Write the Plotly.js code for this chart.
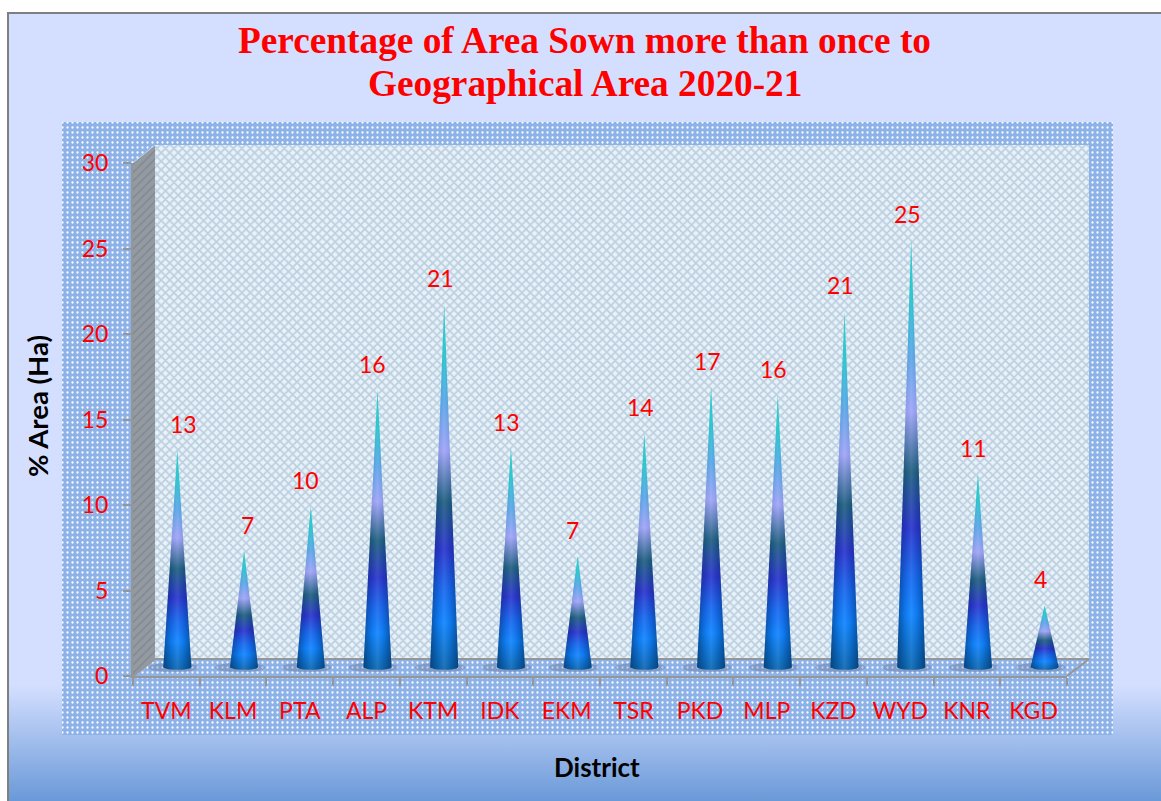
<!DOCTYPE html>
<html><head><meta charset="utf-8">
<script src="https://cdn.plot.ly/plotly-3.0.1.min.js"></script>
<style>html,body{margin:0;padding:0;background:#fff;overflow:hidden}#c{width:1161px;height:801px}</style>
</head><body><div id="c"></div>
<script>
const districts = ["TVM","KLM","PTA","ALP","KTM","IDK","EKM","TSR","PKD","MLP","KZD","WYD","KNR","KGD"];
const percentArea = [12.7,6.8,9.4,16.2,21.2,12.8,6.5,13.7,16.4,15.9,20.8,25,11.3,3.6];
const valueLabels = ["13","7","10","16","21","13","7","14","17","16","21","25","11","4"];
const labelNudgeX = [6,3,-5,-5,-4,-4,-5,-4,-4,-4,-4,-4,-4,-4];
const yTicks = [0,5,10,15,20,25,30];

const W=1161,H=801,red="#ff0000",gray="#969696",sans="Lato, 'Open Sans', sans-serif";
const coneStops=[[0,"#0d66ae"],[0.13,"#0f84ff"],[0.22,"#1768ee"],[0.33,"#2a35cc"],[0.46,"#1f5f80"],[0.6,"#a0a4f8"],[0.73,"#5aa6e8"],[0.87,"#1fc4cc"],[1,"#18c8c8"]];
const shadeStops=[[0,"rgba(0,30,70,0.5)"],[0.3,"rgba(0,30,70,0.08)"],[0.5,"rgba(255,255,255,0.08)"],[0.7,"rgba(0,30,70,0.08)"],[1,"rgba(0,30,70,0.5)"]];
const HALF=0.21,DROP=0.17;

function poly(xs,ys,extra,xa,ya){return Object.assign({x:xs,y:ys,xaxis:xa||"x",yaxis:ya||"y",type:"scatter",mode:"lines",fill:"toself",line:{width:0},hoverinfo:"skip",showlegend:false},extra);}
function seg(xs,ys,c,w){return {x:xs,y:ys,xaxis:"x",yaxis:"y",type:"scatter",mode:"lines",line:{color:c,width:w},hoverinfo:"skip",showlegend:false};}

const decor=[
 poly([8,1161,1161,8,8],[13,13,686,686,13],{fillcolor:"#d4dfff"}),
 poly([8,1161,1161,8,8],[685,685,801,801,685],{fillgradient:{type:"vertical",start:685,stop:801,colorscale:[[0,"#d4dfff"],[1,"#6a99d8"]]}}),
 seg([8,8],[801,13],"#7f7f7f",2),
 seg([7,1161],[13,13],"#7f7f7f",2),
 poly([62,1113,1113,62,62],[122,122,735,735,122],{fillcolor:"#8db2e8",fillpattern:{shape:".",size:5,solidity:0.16,fgcolor:"#ffffff",bgcolor:"#8db2e8",fillmode:"replace"}}),
 poly([155,1089,1089,155,155],[145,145,659,659,145],{fillcolor:"#e2eff8",fillpattern:{shape:"x",size:6,solidity:0.5,fgcolor:"#bccfe0",bgcolor:"#e8f2f9",fillmode:"replace"}}),
 poly([133,155,155,133,133],[163,145,659,676,163],{fillcolor:"#8e949c",fillpattern:{shape:"/",size:6,solidity:0.25,fgcolor:"#82888f",bgcolor:"#949aa2",fillmode:"replace"}}),
 seg([133,155,1089,1067],[676,659,659,676],gray,2),
 seg([133,155],[163,145],"#c4d6f0",1)
];

const coneShape=districts.map((_,i)=>{
  const v=percentArea[i],xs=[i-HALF,i,i+HALF],ys=[0,v,0];
  for(let k=1;k<12;k++){const t=Math.PI*k/12;xs.push(i+HALF*Math.cos(t));ys.push(-DROP*Math.sin(t));}
  xs.push(i-HALF);ys.push(0);
  return {xs,ys};
});
const shadows=coneShape.map((s,i)=>{
  const xs=[],ys=[];
  for(let k=0;k<=24;k++){const t=2*Math.PI*k/24;xs.push(i-0.06+0.38*Math.cos(t));ys.push(-0.03+0.28*Math.sin(t));}
  return poly(xs,ys,{fillcolor:"rgba(90,100,130,0.3)"},"x3","y3");
});
const cones=coneShape.flatMap((s,i)=>[
  poly(s.xs,s.ys,{name:districts[i],fillgradient:{type:"vertical",start:-DROP,stop:percentArea[i],colorscale:coneStops}},"x3","y3"),
  poly(s.xs,s.ys,{fillgradient:{type:"horizontal",start:i-HALF,stop:i+HALF,colorscale:shadeStops}},"x3","y3")
]);
const axisHolder={x:districts,y:percentArea,xaxis:"x2",yaxis:"y2",type:"scatter",mode:"markers",marker:{opacity:0,size:1},hoverinfo:"skip",showlegend:false};

const labelNotes=districts.map((d,i)=>({x:i,y:percentArea[i],xref:"x3",yref:"y3",text:valueLabels[i],showarrow:false,xshift:labelNudgeX[i],yshift:26,yanchor:"middle",font:{family:sans,size:23,color:red}}));

const hidden={visible:false,fixedrange:true};
const unitPx=513/30;
const layout={
 width:W,height:H,margin:{l:0,r:0,t:0,b:0},paper_bgcolor:"#ffffff",plot_bgcolor:"rgba(0,0,0,0)",showlegend:false,hovermode:false,
 title:{text:"Percentage of Area Sown more than once to",x:584.5/W,xanchor:"center",xref:"paper",y:1-27/H,yanchor:"top",yref:"paper",font:{family:"'Liberation Serif', serif",size:37.3,color:red,weight:700}},
 xaxis:Object.assign({domain:[0,1],range:[0,W]},hidden),
 yaxis:Object.assign({domain:[0,1],range:[H,0]},hidden),
 xaxis2:{domain:[133/W,1067/W],anchor:"y2",type:"category",categoryorder:"array",categoryarray:districts,range:[-0.5,13.5],tickson:"boundaries",ticks:"outside",ticklen:8,tickwidth:2,tickcolor:gray,linecolor:gray,linewidth:2,showline:true,showgrid:false,zeroline:false,ticklabelstandoff:13,tickfont:{family:sans,size:23,color:red},fixedrange:true},
 yaxis2:{domain:[(H-676)/H,(H-163)/H],anchor:"x2",range:[0,30],tickvals:yTicks,ticktext:yTicks.map(String),ticks:"outside",ticklen:8,tickwidth:2,tickcolor:gray,linecolor:gray,linewidth:2,showline:true,showgrid:false,zeroline:false,ticklabelstandoff:10,tickfont:{family:sans,size:23,color:red},fixedrange:true},
 xaxis3:Object.assign({domain:[144/W,1078/W],anchor:"y3",range:[-0.5,13.5]},hidden),
 yaxis3:Object.assign({domain:[(H-667-unitPx)/H,(H-154)/H],anchor:"x3",range:[-1,30]},hidden),
 annotations:labelNotes.concat([
  {xref:"paper",yref:"paper",x:584.5/W,y:1-83.5/H,text:"Geographical Area 2020-21",showarrow:false,xanchor:"center",yanchor:"middle",font:{family:"'Liberation Serif', serif",size:37.3,color:red,weight:700}},
  {xref:"paper",yref:"paper",x:597/W,y:1-767/H,text:"District",showarrow:false,xanchor:"center",yanchor:"middle",font:{family:sans,size:26,color:"#000",weight:700}},
  {xref:"paper",yref:"paper",x:37/W,y:1-406/H,text:"% Area (Ha)",textangle:-90,showarrow:false,xanchor:"center",yanchor:"middle",font:{family:sans,size:27.5,color:"#000",weight:700}}
 ])
};
Plotly.newPlot("c",decor.concat([axisHolder],shadows,cones),layout,{displayModeBar:false,staticPlot:true});
</script></body></html>
